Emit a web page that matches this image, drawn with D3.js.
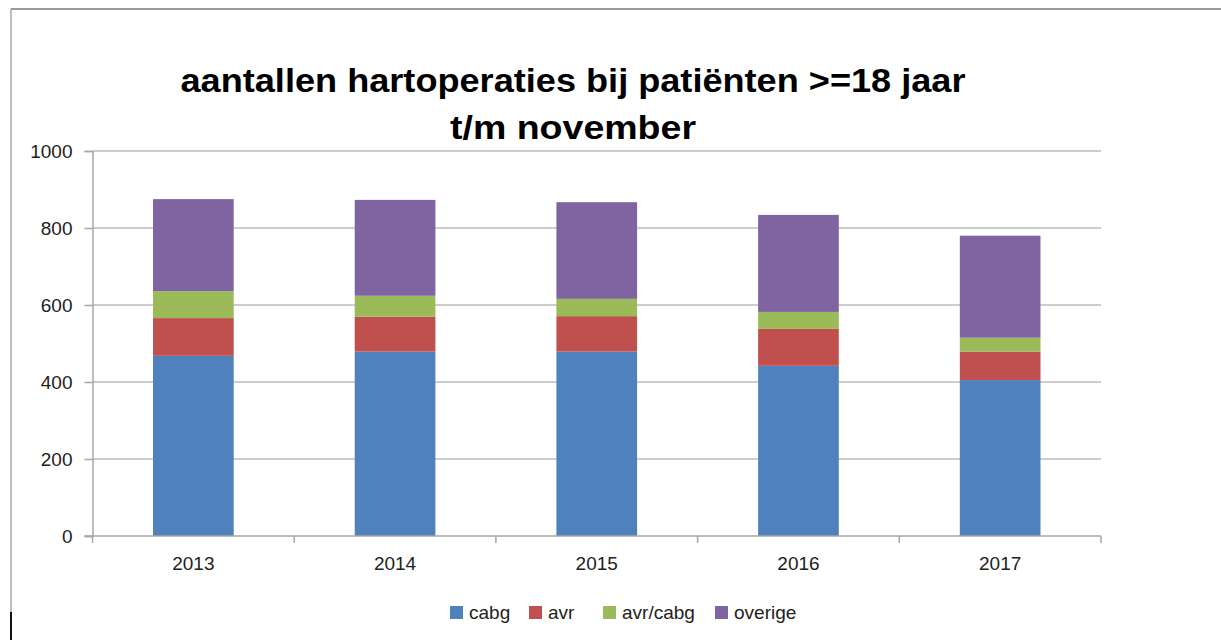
<!DOCTYPE html>
<html>
<head>
<meta charset="utf-8">
<script src="https://cdn.jsdelivr.net/npm/d3@7"></script>
<style>
  html, body { margin: 0; padding: 0; background: #fff; }
  svg { display: block; }
  text { font-family: "Liberation Sans", Arial, sans-serif; }
</style>
</head>
<body>
<svg id="chart" width="1221" height="640"></svg>
<script>
const years = ["2013", "2014", "2015", "2016", "2017"];
const seriesNames = ["cabg", "avr", "avr/cabg", "overige"];
const cabg    = [468, 479, 479, 442, 405];
const avr     = [98, 91, 92, 96, 74];
const avrCabg = [70, 54, 45, 44, 36];
const overige = [239, 249, 251, 252, 265];
const yTicks  = [0, 200, 400, 600, 800, 1000];
const colors  = ["#4F81BD", "#C0504D", "#9BBB59", "#8064A2"];
const titleLines = ["aantallen hartoperaties bij patiënten >=18 jaar", "t/m november"];

const rows = years.map((yr, i) => ({
  year: yr, "cabg": cabg[i], "avr": avr[i], "avr/cabg": avrCabg[i], "overige": overige[i]
}));

const svg = d3.select("#chart");

// frame
svg.append("line").attr("x1", 11).attr("x2", 1221).attr("y1", 9).attr("y2", 9)
  .attr("stroke", "#9a9a9a").attr("stroke-width", 2);
svg.append("line").attr("x1", 11).attr("x2", 11).attr("y1", 9).attr("y2", 640)
  .attr("stroke", "#a8a8a8").attr("stroke-width", 1.5);
svg.append("line").attr("x1", 11).attr("x2", 11).attr("y1", 612).attr("y2", 640)
  .attr("stroke", "#111").attr("stroke-width", 2);

const plotLeft = 92.5, plotRight = 1101, plotTop = 151, plotBottom = 536;

const x = d3.scaleBand().domain(years).range([plotLeft, plotRight])
  .paddingInner(0.6).paddingOuter(0.3);
const y = d3.scaleLinear().domain([0, 1000]).range([plotBottom, plotTop]);

// gridlines
svg.append("g").selectAll("line").data(yTicks.filter(t => t > 0)).join("line")
  .attr("x1", plotLeft).attr("x2", plotRight)
  .attr("y1", d => y(d)).attr("y2", d => y(d))
  .attr("stroke", "#bdbdbd").attr("stroke-width", 1.5);

// y axis
const yAxis = svg.append("g").attr("transform", `translate(${plotLeft},0)`)
  .call(d3.axisLeft(y).tickValues(yTicks).tickSize(8).tickPadding(12).tickFormat(d3.format("d")));
yAxis.select(".domain").attr("stroke", "#a6a6a6").attr("stroke-width", 1.5);
yAxis.selectAll(".tick line").attr("stroke", "#a6a6a6").attr("stroke-width", 1.5);
yAxis.selectAll("text").attr("font-size", 19).attr("fill", "#222")
  .style("font-family", "'Liberation Sans', Arial, sans-serif");

// stacked bars
const stacked = d3.stack().keys(seriesNames)(rows);
svg.append("g").selectAll("g").data(stacked).join("g")
  .attr("fill", (d, i) => colors[i])
  .selectAll("rect").data(d => d).join("rect")
  .attr("x", d => x(d.data.year))
  .attr("width", x.bandwidth())
  .attr("y", d => y(d[1]))
  .attr("height", d => y(d[0]) - y(d[1]));

// x axis
const xAxis = svg.append("g").attr("transform", `translate(0,${plotBottom})`)
  .call(d3.axisBottom(x).tickSize(0).tickPadding(21));
xAxis.select(".domain").remove();
xAxis.selectAll("text").attr("font-size", 19).attr("fill", "#222")
  .style("font-family", "'Liberation Sans', Arial, sans-serif");
svg.append("line").attr("x1", plotLeft - 8).attr("x2", plotRight)
  .attr("y1", plotBottom).attr("y2", plotBottom)
  .attr("stroke", "#a6a6a6").attr("stroke-width", 1.5);
const boundaries = years.map(yr => x(yr) - x.step() * x.paddingInner() / 2)
  .concat([plotRight]);
boundaries[0] = plotLeft;
svg.append("g").selectAll("line").data(boundaries).join("line")
  .attr("x1", d => d).attr("x2", d => d)
  .attr("y1", plotBottom).attr("y2", plotBottom + 7)
  .attr("stroke", "#a6a6a6").attr("stroke-width", 1.5);

// title
const cx = 573;
svg.append("text").attr("x", cx).attr("y", 92).attr("text-anchor", "middle")
  .attr("font-size", 34).attr("font-weight", "bold").attr("fill", "#000")
  .attr("textLength", 785).attr("lengthAdjust", "spacingAndGlyphs")
  .text(titleLines[0]);
svg.append("text").attr("x", cx).attr("y", 139).attr("text-anchor", "middle")
  .attr("font-size", 34).attr("font-weight", "bold").attr("fill", "#000")
  .attr("textLength", 246).attr("lengthAdjust", "spacingAndGlyphs")
  .text(titleLines[1]);

// legend
const legendX = [450, 529, 603, 715];
const lg = svg.append("g").selectAll("g").data(seriesNames).join("g")
  .attr("transform", (d, i) => `translate(${legendX[i]},606)`);
lg.append("rect").attr("width", 13).attr("height", 13)
  .attr("fill", (d, i) => colors[i]);
lg.append("text").attr("x", 19).attr("y", 13)
  .attr("font-size", 19).attr("fill", "#222")
  .text(d => d);
</script>
</body>
</html>
